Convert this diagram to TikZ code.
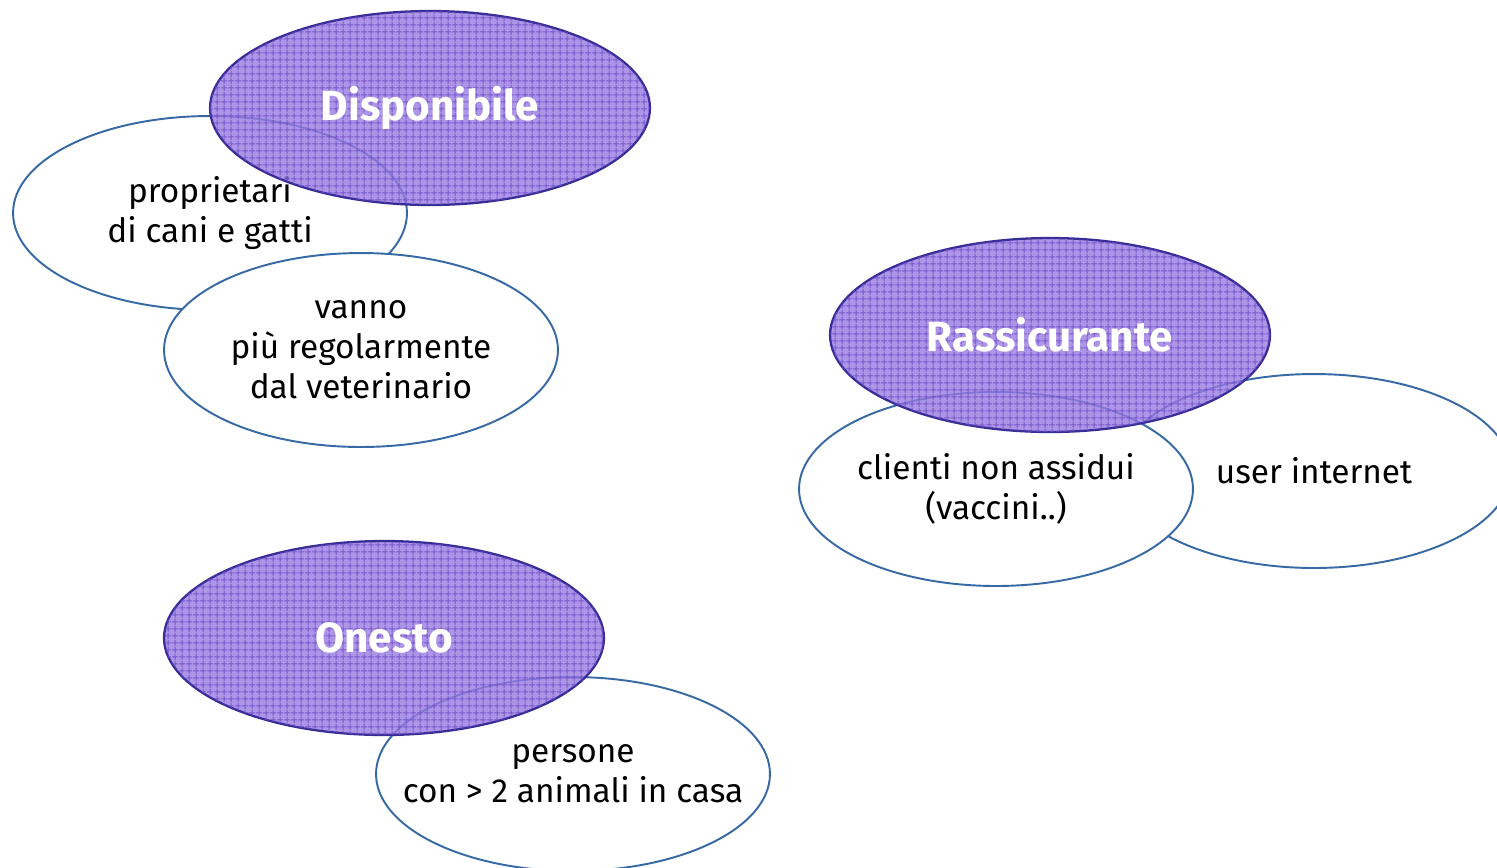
\documentclass[tikz,border=0pt]{standalone}
\usepackage{fontspec}
\setmainfont{Fira Sans}
\usetikzlibrary{shapes.geometric, patterns.meta}

\definecolor{viola}{RGB}{152,122,226}
\definecolor{violascuro}{RGB}{110,75,200}
\definecolor{bordoviola}{RGB}{55,45,150}
\definecolor{bordoblu}{RGB}{55,105,165}

\tikzset{
  gruppo/.style={ellipse, draw=bordoblu, fill=white, line width=1.1pt,
    minimum width=7.88cm, minimum height=3.88cm, inner ysep=0pt,
    inner xsep=-25pt, align=center, font=\fontsize{19}{22.8}\selectfont},
  valore/.style={ellipse, draw=bordoviola, line width=1.3pt,
    fill=viola, fill opacity=0.8, text opacity=1, text=white,
    minimum width=8.8cm, minimum height=3.88cm, inner sep=0pt,
    font=\bfseries\fontsize{24}{29}\selectfont,
    postaction={pattern={Hatch[distance=4pt, line width=0.55pt]},
      pattern color=violascuro}}
}

\begin{document}
\begin{tikzpicture}[x=0.02cm, y=-0.02cm]
      % 0. cornice come nel riferimento
      \useasboundingbox (0,0) rectangle (1497,867);

      % 1. Disponibile e i suoi gruppi
      \node[gruppo] (proprietari) at (210,213) {proprietari\\di cani e gatti};
      \node[gruppo] (vanno) at (361,350) {vanno\\più regolarmente\\dal veterinario};
      \node[valore] (disponibile) at (430,108) {Disponibile};

      % 2. Rassicurante e i suoi gruppi
      \node[gruppo] (user) at (1314,471) {user internet};
      \node[gruppo] (clienti) at (996,489) {clienti non assidui\\(vaccini..)};
      \node[valore] (rassicurante) at (1050,335) {Rassicurante};

      % 3. Onesto e il suo gruppo
      \node[gruppo] (persone) at (573,774) {persone\\con > 2 animali in casa};
      \node[valore] (onesto) at (384,638) {Onesto};
\end{tikzpicture}
\end{document}
